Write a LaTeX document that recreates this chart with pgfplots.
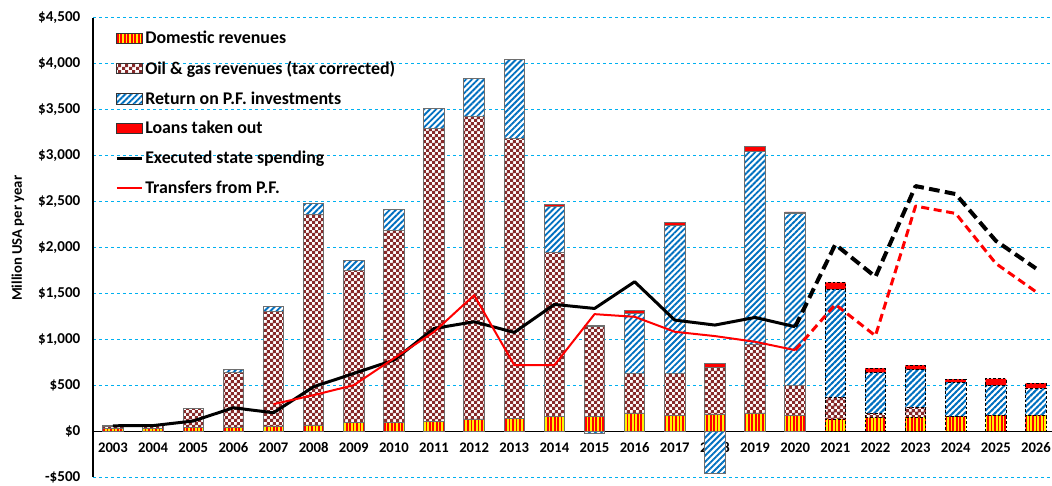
\documentclass[border=0pt]{standalone}
\usepackage{fontspec}
\setmainfont{Carlito}
\usepackage{pgfplots}
\pgfplotsset{compat=1.18}
\usetikzlibrary{patterns,patterns.meta}

\definecolor{gridblue}{RGB}{0,176,240}
\definecolor{checkbrown}{RGB}{135,42,42}
\definecolor{stripeblue}{RGB}{0,112,192}
\definecolor{outlinegray}{RGB}{110,110,110}

\pgfdeclarepatternformonly{smallchecker}{\pgfpointorigin}{\pgfqpoint{4.8pt}{4.8pt}}{\pgfqpoint{4.8pt}{4.8pt}}{%
  \pgfpathrectangle{\pgfpointorigin}{\pgfqpoint{2.5pt}{2.5pt}}%
  \pgfpathrectangle{\pgfqpoint{2.4pt}{2.4pt}}{\pgfqpoint{2.5pt}{2.5pt}}%
  \pgfusepath{fill}}

\tikzset{
  domstyle/.style={preaction={fill=yellow}, pattern={Lines[angle=90,distance=2.6pt,line width=1.3pt]}, pattern color=red},
  oilstyle/.style={preaction={fill=white}, pattern=smallchecker, pattern color=checkbrown},
  retstyle/.style={preaction={fill=white}, pattern={Lines[angle=45,distance=3.2pt,line width=1.4pt]}, pattern color=stripeblue},
  loanstyle/.style={fill=red},
  histbar/.style={draw=outlinegray, line width=0.7pt},
  projbar/.style={draw=none, postaction={draw=black, line width=0.6pt, dash pattern=on 2pt off 1.5pt}},
}

\pgfplotsset{
  base/.style={
    scale only axis, width=719.25pt, height=344.25pt,
    xmin=2002.502, xmax=2026.40, ymin=-500, ymax=4500,
    at={(0,0)}, anchor=south west,
  },
  mybarlegend/.style={legend image code/.code={\draw[##1] (0pt,-3.8pt) rectangle (19pt,3.8pt);}},
  mylinelegend/.style={legend image code/.code={\draw[##1] (0pt,0pt) -- (19pt,0pt);}},
}

\begin{document}
\begin{tikzpicture}
\path[use as bounding box] (-69.75pt,-6pt) rectangle (719.25pt,357.75pt);

% Axis A: grid, axes, historical bars
\begin{axis}[base, ybar stacked, bar width=0.51,
  axis x line=middle, axis y line=left,
  axis line style={-, black, line width=0.9pt},
  x axis line style={-}, y axis line style={-},
  hide obscured x ticks=false, hide obscured y ticks=false,
  xtick=\empty,
  ytick={-500,0,500,1000,1500,2000,2500,3000,3500,4000,4500},
  yticklabels={{-\$500},{\$0},{\$500},{\$1,000},{\$1,500},{\$2,000},{\$2,500},{\$3,000},{\$3,500},{\$4,000},{\$4,500}},
  yticklabel style={font=\bfseries\fontsize{11.3}{13}\selectfont, xshift=-6pt},
  major tick length=0pt,
  ymajorgrids, grid style={gridblue, line width=0.75pt, dash pattern=on 2.5pt off 2pt},
  ylabel={Million USA per year},
  ylabel style={font=\bfseries\fontsize{11}{13}\selectfont, at={(axis description cs:-0.0782,0.52)}, anchor=center},
]
\addplot[histbar, domstyle] coordinates {(2003,30) (2004,30) (2005,40) (2006,40) (2007,55) (2008,65) (2009,90) (2010,95) (2011,110) (2012,125) (2013,140) (2014,155) (2015,160) (2016,190) (2017,170) (2018,180) (2019,190) (2020,170)};
\addplot[histbar, oilstyle] coordinates {(2003,25) (2004,40) (2005,205) (2006,600) (2007,1245) (2008,2290) (2009,1655) (2010,2095) (2011,3190) (2012,3300) (2013,3045) (2014,1795) (2015,980) (2016,440) (2017,460) (2018,515) (2019,755) (2020,327)};
\addplot[histbar, retstyle] coordinates {(2003,3) (2004,5) (2005,3) (2006,35) (2007,55) (2008,120) (2009,110) (2010,220) (2011,215) (2012,415) (2013,865) (2014,500) (2015,0) (2016,650) (2017,1615) (2018,0) (2019,2105) (2020,1870)};
\addplot[histbar, loanstyle] coordinates {(2003,0) (2004,0) (2005,0) (2006,0) (2007,0) (2008,0) (2009,0) (2010,0) (2011,0) (2012,0) (2013,0) (2014,20) (2015,15) (2016,30) (2017,30) (2018,45) (2019,55) (2020,20)};
\end{axis}

% Axis B: projected bars
\begin{axis}[base, ybar stacked, bar width=0.51, hide axis]
\addplot[domstyle, projbar] coordinates {(2021,130) (2022,145) (2023,150) (2024,156) (2025,171) (2026,171)};
\addplot[oilstyle, projbar] coordinates {(2021,235) (2022,47) (2023,108) (2024,0) (2025,0) (2026,0)};
\addplot[retstyle, projbar] coordinates {(2021,1180) (2022,445) (2023,413) (2024,374) (2025,326) (2026,294)};
\addplot[loanstyle, projbar] coordinates {(2021,73) (2022,47) (2023,44) (2024,33) (2025,73) (2026,54)};
\end{axis}

% Axis C: negative returns, lines, legend, x labels
\begin{axis}[base,
  axis x line=middle, axis y line=none,
  x axis line style={draw=none},
  hide obscured x ticks=false,
  xtick={2003,2004,2005,2006,2007,2008,2009,2010,2011,2012,2013,2014,2015,2016,2017,2018,2019,2020,2021,2022,2023,2024,2025,2026},
  xticklabels={2003,2004,2005,2006,2007,2008,2009,2010,2011,2012,2013,2014,2015,2016,2017,2018,2019,2020,2021,2022,2023,2024,2025,2026},
  xticklabel style={font=\bfseries\fontsize{11}{13}\selectfont, yshift=-5pt},
  ytick=\empty,
  major tick length=0pt,
  legend style={at={(axis description cs:0.023,0.975)}, anchor=north west, draw=none, fill=none,
    font=\bfseries\fontsize{13.4}{15}\selectfont, row sep=9pt, inner sep=0pt,
    nodes={inner sep=1.2pt}},
  legend cell align=left,
]
\addlegendimage{mybarlegend, domstyle, draw=black!80, line width=0.5pt}
\addlegendentry{Domestic revenues}
\addlegendimage{mybarlegend, oilstyle, draw=black!80, line width=0.5pt}
\addlegendentry{Oil \& gas revenues (tax corrected)}
\addlegendimage{mybarlegend, retstyle, draw=black!80, line width=0.5pt}
\addlegendentry{Return on P.F. investments}
\addlegendimage{mybarlegend, loanstyle, draw=black!80, line width=0.5pt}
\addlegendentry{Loans taken out}
\addlegendimage{mylinelegend, black, line width=2.25pt}
\addlegendentry{Executed state spending}
\addlegendimage{mylinelegend, red, line width=1.3pt}
\addlegendentry{Transfers from P.F.}

\addplot[ybar, bar width=0.51, histbar, retstyle, forget plot] coordinates {(2015,-25) (2018,-460)};

\addplot[black, line width=2.25pt, line join=round, forget plot] coordinates {(2003,58) (2004,60) (2005,110) (2006,254) (2007,200) (2008,483) (2009,628) (2010,773) (2011,1118) (2012,1191) (2013,1075) (2014,1380) (2015,1336) (2016,1627) (2017,1209) (2018,1155) (2019,1238) (2020,1137)};
\addplot[black, line width=3pt, line join=round, dash pattern=on 8pt off 4pt, forget plot] coordinates {(2020,1137) (2021,2033) (2022,1681) (2023,2669) (2024,2582) (2025,2073) (2026,1772)};
\addplot[red, line width=1.5pt, line join=round, forget plot] coordinates {(2007,294) (2008,392) (2009,500) (2010,792) (2011,1080) (2012,1481) (2013,719) (2014,719) (2015,1274) (2016,1245) (2017,1082) (2018,1035) (2019,973) (2020,882)};
\addplot[red, line width=2.25pt, line join=round, dash pattern=on 6pt off 3.5pt, forget plot] coordinates {(2020,882) (2021,1380) (2022,1038) (2023,2451) (2024,2371) (2025,1826) (2026,1518)};
\end{axis}
\end{tikzpicture}
\end{document}
